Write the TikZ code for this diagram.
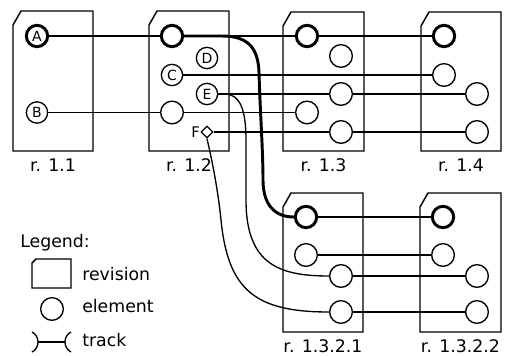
\documentclass[tikz,border=0pt]{standalone}
\usepackage{fontspec}
\setmainfont{DejaVu Sans}
\usetikzlibrary{shapes.geometric}
\tikzset{
  revline/.style={line width=1.1pt, line join=miter},
  elem/.style={circle, draw, line width=1pt, minimum size=17pt, inner sep=0pt,
               fill=white, font=\fontsize{10.5}{12}\selectfont},
  elemsmall/.style={elem, minimum size=16pt},
  mainelem/.style={elem, line width=2.2pt, minimum size=16pt},
  fork/.style={diamond, draw, line width=1pt, fill=white, minimum size=9pt, inner sep=0pt},
  track/.style={line width=1pt},
  maintrack/.style={line width=2.2pt},
  revlabel/.style={font=\fontsize{13}{15}\selectfont, anchor=base, inner sep=0pt},
  legendtext/.style={font=\fontsize{13}{15}\selectfont, anchor=base west, inner sep=0pt},
}
% revision box with a chamfered top-left corner and its caption below
% #1 caption node name, #2 left, #3 top, #4 right, #5 bottom, #6 caption
\newcommand\revisionbox[6]{%
  \draw[revline] (#2,#3+14) -- (#2+8,#3) -- (#4,#3) -- (#4,#5) -- (#2,#5) -- cycle;
  \node[revlabel] (#1) at ({(#2+#4)/2},#5+21) {#6};}

\begin{document}
\begin{tikzpicture}[x=0.75pt,y=-0.75pt]
\useasboundingbox (0,0) rectangle (508,356);

% revisions
\revisionbox{r11}{13}{11}{93}{151}{r. 1.1}
\revisionbox{r12}{149}{11}{229}{151}{r. 1.2}
\revisionbox{r13}{283}{12}{364}{151}{r. 1.3}
\revisionbox{r14}{421}{12}{501}{151}{r. 1.4}
\revisionbox{r1321}{283}{193}{363}{332}{r. 1.3.2.1}
\revisionbox{r1322}{420}{193}{501}{332}{r. 1.3.2.2}

% elements of r. 1.1
\node[mainelem] (a11) at (37,36) {A};
\node[elemsmall] (b11) at (37,112.5) {B};
% elements of r. 1.2
\node[mainelem] (a12) at (172,36) {};
\node[elemsmall] (d12) at (207,58) {D};
\node[elemsmall] (c12) at (172,75) {C};
\node[elemsmall] (e12) at (207,94) {E};
\node[elem] (b12) at (172,112.5) {};
\node[fork] (f12) at (207,132) {};
\node[font=\fontsize{11}{12}\selectfont, inner sep=0pt] (flabel) at (195.5,132) {F};
% elements of r. 1.3
\node[mainelem] (a13) at (307,36) {};
\node[elem] (d13) at (341,56) {};
\node[elem] (e13) at (341,94) {};
\node[elem] (b13) at (307,112.5) {};
\node[elem] (f13) at (341,132) {};
% elements of r. 1.4
\node[mainelem] (a14) at (444,36) {};
\node[elem] (c14) at (444,75) {};
\node[elem] (e14) at (477,94) {};
\node[elem] (f14) at (477,132) {};
% elements of r. 1.3.2.1
\node[mainelem] (p1) at (306,217) {};
\node[elem] (p2) at (306,255) {};
\node[elem] (p3) at (341,276) {};
\node[elem] (p4) at (341,312) {};
% elements of r. 1.3.2.2
\node[mainelem] (q1) at (443,217) {};
\node[elem] (q2) at (443,255) {};
\node[elem] (q3) at (477,276) {};
\node[elem] (q4) at (477,312) {};

% main track and its branch
\draw[maintrack] (a11) -- (a12);
\draw[maintrack] (a12) -- (a13);
\draw[maintrack] (a13) -- (a14);
\draw[maintrack] (p1) -- (q1);
\draw[maintrack] (a12.east) -- (222,36)
  .. controls (250,36) and (258,50) .. (259,72)
  .. controls (260,110) and (263,150) .. (263,180)
  .. controls (263,205) and (275,217) .. (p1.west);

% other tracks
\draw[track] (b11) -- (b12);
\draw[track] (b12) -- (b13);
\draw[track] (c12) -- (c14);
\draw[track] (e12) -- (e13);
\draw[track] (e13) -- (e14);
\draw[track] (f12) -- (f13);
\draw[track] (f13) -- (f14);
\draw[track] (p2) -- (q2);
\draw[track] (p3) -- (q3);
\draw[track] (p4) -- (q4);
\draw[track] (e12.east) -- (225,94)
  .. controls (240,94) and (246,110) .. (246,140) -- (246,200)
  .. controls (246,265) and (280,276) .. (p3.west);
\draw[track] (f12.south)
  .. controls (212,160) and (218,190) .. (221,220)
  .. controls (228,290) and (255,312) .. (p4.west);

% legend
\node[legendtext] (legend) at (20,248) {Legend:};
\draw[revline] (32,263) -- (36,259) -- (71,259) -- (71,288) -- (32,288) -- cycle;
\node[legendtext] (lrev) at (82,281) {revision};
\node[elem] (lelem) at (52,309) {};
\node[legendtext] (lelemtext) at (82,313) {element};
\coordinate (tl) at (38,342);
\coordinate (tr) at (65,342);
\draw[track] (32,332) .. controls (40,336) and (40,348) .. (32,352);
\draw[track] (71,332) .. controls (63,336) and (63,348) .. (71,352);
\draw[track] (tl) -- (tr);
\node[legendtext] (ltrack) at (82,347) {track};
\end{tikzpicture}
\end{document}
